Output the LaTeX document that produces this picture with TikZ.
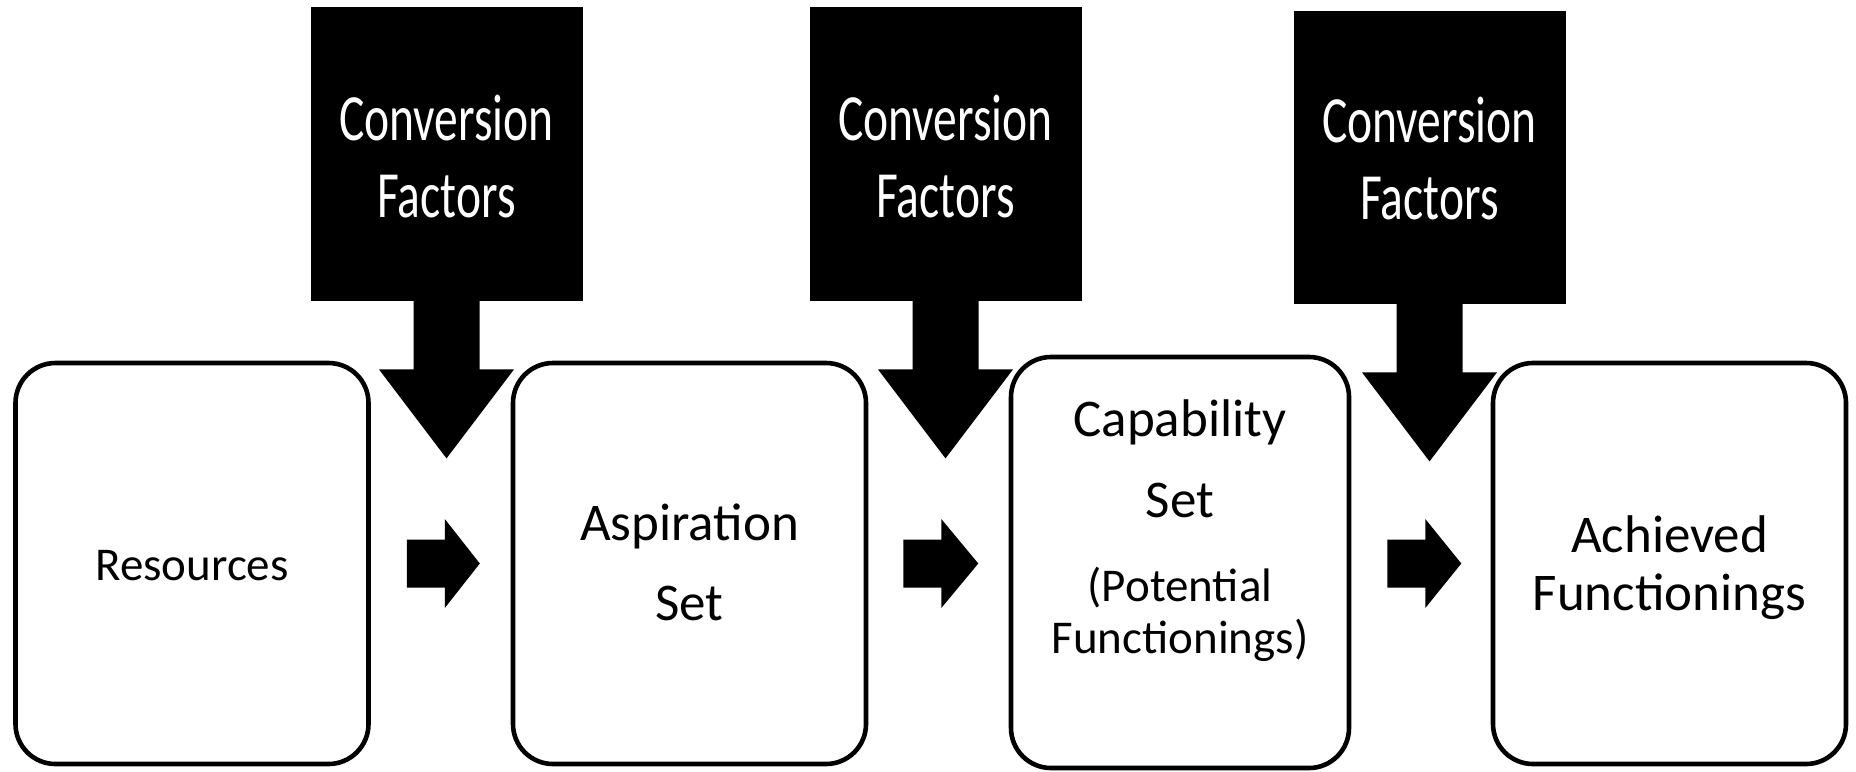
\documentclass[tikz,border=0pt]{standalone}
\usepackage{fontspec}
\setmainfont{Carlito}
\newfontfamily\cffont[FakeStretch=0.72]{Carlito}
\usetikzlibrary{calc}

\begin{document}
\begin{tikzpicture}[x=0.5pt,y=-0.5pt,
  stagebox/.style={draw,line width=2.3pt,rounded corners=20pt,inner sep=0pt,
    minimum width=176.5pt,minimum height=200.5pt},
  factorbox/.style={fill=black,inner sep=0pt,minimum width=136pt,minimum height=147pt},
  factortext/.style={anchor=base,text=white,inner sep=0pt,font=\cffont\fontsize{33pt}{38pt}\selectfont},
  bigtext/.style={anchor=base,inner sep=0pt,font=\fontsize{26.5pt}{32pt}\selectfont},
  smalltext/.style={anchor=base,inner sep=0pt,font=\fontsize{23.5pt}{28pt}\selectfont}]

% canvas
\useasboundingbox (0,0) rectangle (1856,771);
\fill[white] (0,0) rectangle (1856,771);

% stage boxes
\node[stagebox] (res) at (192,563.5) {};
\node[stagebox] (asp) at (689.5,563.5) {};
\node[stagebox,minimum width=169pt,minimum height=205.5pt] (cap) at (1180,562.5) {};
\node[stagebox] (ach) at (1669.5,563.5) {};

% stage labels
\node[smalltext] (tres) at (192,580) {Resources};
\node[bigtext] (tasp1) at (689.5,540) {Aspiration};
\node[bigtext] (tasp2) at (689.5,620) {Set};
\node[bigtext] (tcap1) at (1180,436) {Capability};
\node[bigtext] (tcap2) at (1180,517) {Set};
\node[smalltext] (tcap3) at (1180,601) {(Potential};
\node[smalltext] (tcap4) at (1180,653) {Functionings)};
\node[bigtext] (tach1) at (1669.5,552) {Achieved};
\node[bigtext] (tach2) at (1669.5,610) {Functionings};

% conversion factor blocks
\node[factorbox] (cfa) at (446.5,154) {};
\node[factorbox] (cfb) at (945.5,154) {};
\node[factorbox,minimum height=146.5pt] (cfc) at (1429.5,157.5) {};

\node[factortext] (cfa1) at (446.5,140) {Conversion};
\node[factortext] (cfa2) at (446.5,217) {Factors};
\node[factortext] (cfb1) at (945.5,140) {Conversion};
\node[factortext] (cfb2) at (945.5,217) {Factors};
\node[factortext] (cfc1) at (1429.5,142) {Conversion};
\node[factortext] (cfc2) at (1429.5,219) {Factors};

% block arrow pointing down out of a factor block
\newcommand\cfdrop[1]{%
  \fill ($(#1.south)+(-33,-2)$) -- ($(#1.south)+(-33,68)$) -- ($(#1.south)+(-67.5,68)$)
    -- ($(#1.south)+(0,157)$) -- ($(#1.south)+(67.5,68)$) -- ($(#1.south)+(33,68)$)
    -- ($(#1.south)+(33,-2)$) -- cycle;}
\cfdrop{cfa}
\cfdrop{cfb}
\cfdrop{cfc}

% block arrows pointing right from one stage to the next
\fill ($(res.east)+(36,-24)$) -- ($(res.east)+(74,-24)$) -- ($(res.east)+(74,-44.5)$)
  -- ($(res.east)+(109,0)$) -- ($(res.east)+(74,44.5)$) -- ($(res.east)+(74,24)$)
  -- ($(res.east)+(36,24)$) -- cycle;
\fill ($(asp.east)+(35,-24)$) -- ($(asp.east)+(73,-24)$) -- ($(asp.east)+(73,-44.5)$)
  -- ($(asp.east)+(110,0)$) -- ($(asp.east)+(73,44.5)$) -- ($(asp.east)+(73,24)$)
  -- ($(asp.east)+(35,24)$) -- cycle;
\fill ($(cap.east)+(36,-23)$) -- ($(cap.east)+(74,-23)$) -- ($(cap.east)+(74,-43.5)$)
  -- ($(cap.east)+(110,1)$) -- ($(cap.east)+(74,45.5)$) -- ($(cap.east)+(74,25)$)
  -- ($(cap.east)+(36,25)$) -- cycle;
\end{tikzpicture}
\end{document}
